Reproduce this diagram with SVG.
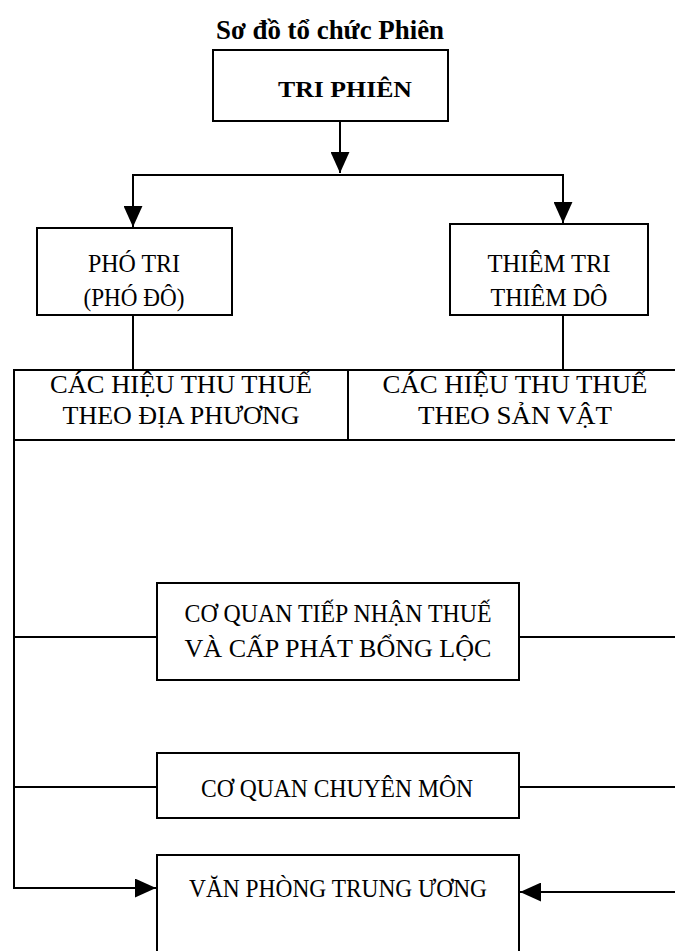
<svg xmlns="http://www.w3.org/2000/svg" width="675" height="951" viewBox="0 0 675 951">
<style>
.box{fill:#fff;stroke:#000;stroke-width:2}
.t{font-family:"Liberation Serif","DejaVu Serif",serif;font-size:26px;fill:#000;text-anchor:middle}
.b{font-weight:bold}
.c{fill:none;stroke:#000;stroke-width:2}
</style>
<defs>
<marker id="arr" viewBox="0 0 20 18" refX="20" refY="9" markerWidth="21" markerHeight="19" orient="auto" markerUnits="userSpaceOnUse">
<path d="M0,0 L20,9 L0,18 z" fill="#000"/>
</marker>
</defs>
<rect width="675" height="951" fill="#fff"/>
<text class="t b" x="330" y="39" style="font-size:27px" textLength="228" lengthAdjust="spacingAndGlyphs">Sơ đồ tổ chức Phiên</text>
<g id="connectors">
<path class="c" d="M340,121 V173" marker-end="url(#arr)"/>
<path class="c" d="M340,175 H133 V227" marker-end="url(#arr)"/>
<path class="c" d="M340,175 H563 V223" marker-end="url(#arr)"/>
<path class="c" d="M133,315 V370"/>
<path class="c" d="M563,315 V370"/>
<path class="c" d="M14,440 V888 H156" marker-end="url(#arr)"/>
<path class="c" d="M14,637 H157"/>
<path class="c" d="M519,637 H675"/>
<path class="c" d="M14,787 H157"/>
<path class="c" d="M519,787 H675"/>
<path class="c" d="M675,892 H520" marker-end="url(#arr)"/>
</g>
<g id="tri-phien">
<rect class="box" x="213" y="50" width="235" height="71"/>
<text class="t b" x="345" y="97" style="font-size:23px" textLength="134" lengthAdjust="spacingAndGlyphs">TRI PHIÊN</text>
</g>
<g id="pho-tri">
<rect class="box" x="37" y="228" width="195" height="87"/>
<text class="t" x="134" y="272" textLength="92" lengthAdjust="spacingAndGlyphs">PHÓ TRI</text>
<text class="t" x="134" y="306" textLength="101" lengthAdjust="spacingAndGlyphs">(PHÓ ĐÔ)</text>
</g>
<g id="thiem-tri">
<rect class="box" x="450" y="224" width="198" height="91"/>
<text class="t" x="549" y="272" textLength="123" lengthAdjust="spacingAndGlyphs">THIÊM TRI</text>
<text class="t" x="549" y="306" textLength="117" lengthAdjust="spacingAndGlyphs">THIÊM DÔ</text>
</g>
<g id="hieu-dia-phuong">
<rect class="box" x="14" y="370" width="334" height="70"/>
<text class="t" x="181" y="393" textLength="262" lengthAdjust="spacingAndGlyphs">CÁC HIỆU THU THUẾ</text>
<text class="t" x="181" y="424" textLength="237" lengthAdjust="spacingAndGlyphs">THEO ĐỊA PHƯƠNG</text>
</g>
<g id="hieu-san-vat">
<rect class="box" x="348" y="370" width="340" height="70"/>
<text class="t" x="515" y="393" textLength="265" lengthAdjust="spacingAndGlyphs">CÁC HIỆU THU THUẾ</text>
<text class="t" x="515" y="424" textLength="194" lengthAdjust="spacingAndGlyphs">THEO SẢN VẬT</text>
</g>
<g id="tiep-nhan-thue">
<rect class="box" x="157" y="583" width="362" height="97"/>
<text class="t" x="338" y="622" textLength="307" lengthAdjust="spacingAndGlyphs">CƠ QUAN TIẾP NHẬN THUẾ</text>
<text class="t" x="338" y="657" textLength="307" lengthAdjust="spacingAndGlyphs">VÀ CẤP PHÁT BỔNG LỘC</text>
</g>
<g id="chuyen-mon">
<rect class="box" x="157" y="753" width="362" height="65"/>
<text class="t" x="337" y="797" textLength="272" lengthAdjust="spacingAndGlyphs">CƠ QUAN CHUYÊN MÔN</text>
</g>
<g id="van-phong">
<rect class="box" x="157" y="855" width="362" height="110"/>
<text class="t" x="338" y="897" textLength="298" lengthAdjust="spacingAndGlyphs">VĂN PHÒNG TRUNG ƯƠNG</text>
</g>
</svg>
